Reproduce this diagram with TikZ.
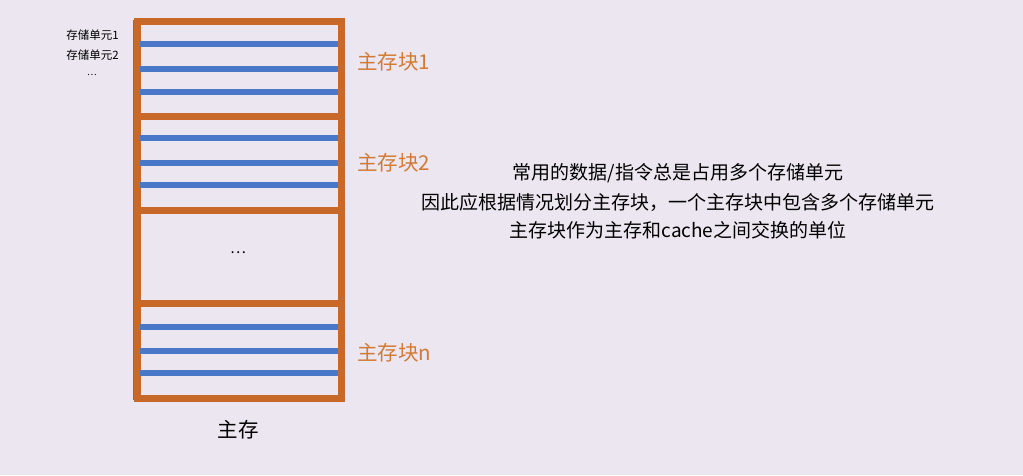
\documentclass[tikz,border=0pt]{standalone}
\usepackage{fontspec}
\setmainfont{Noto Sans CJK SC}
\usepackage{xcolor}
\usepackage{tikz}
\definecolor{bgpaper}{HTML}{EBE6EF}
\definecolor{blockline}{HTML}{C8692A}
\definecolor{blocktext}{HTML}{D27A35}
\definecolor{cellline}{HTML}{4A78C8}

\begin{document}
\begin{tikzpicture}[x=1pt,y=-1pt, every node/.style={inner sep=0pt},
	blocklabel/.style={anchor=west,text=blocktext,font=\fontsize{20.5}{22}\selectfont},
	celllabel/.style={anchor=east,font=\fontsize{11.5}{13}\selectfont},
	note/.style={font=\fontsize{19}{22}\selectfont}]
			\useasboundingbox (0,0) rectangle (1023,475);
			\fill[bgpaper] (0,0) rectangle (1023,475);
			% memory outline and blocks
			\draw[cellline,line width=1.5pt] (133.5,21) rectangle (342,399.5);
			\draw[blockline,line width=7pt] (137,21) rectangle (341,398);
			\draw[blockline,line width=7pt] (137,116) -- (341,116);
			\draw[blockline,line width=7pt] (137,210) -- (341,210);
			\draw[blockline,line width=7pt] (137,303) -- (341,303);
			% storage cells
			\draw[cellline,line width=5.5pt] (140,44) -- (338,44);
			\draw[cellline,line width=5.5pt] (140,69) -- (338,69);
			\draw[cellline,line width=5.5pt] (140,92) -- (338,92);
			\draw[cellline,line width=5.5pt] (140,138) -- (338,138);
			\draw[cellline,line width=5.5pt] (140,163) -- (338,163);
			\draw[cellline,line width=5.5pt] (140,185) -- (338,185);
			\draw[cellline,line width=5.5pt] (140,327) -- (338,327);
			\draw[cellline,line width=5.5pt] (140,351) -- (338,351);
			\draw[cellline,line width=5.5pt] (140,373) -- (338,373);
			% labels
			\node[celllabel] (cell1) at (119,35) {存储单元1};
			\node[celllabel] (cell2) at (119,55) {存储单元2};
			\node[font=\fontsize{9}{10}\selectfont] (celldots) at (92,75) {\dots};
			\node[font=\fontsize{15}{16}\selectfont] (blockdots) at (238,253) {\dots};
			\node[blocklabel] (block1) at (357,62) {主存块1};
			\node[blocklabel] (block2) at (357,163) {主存块2};
			\node[blocklabel] (blockn) at (357,353) {主存块n};
			\node[font=\fontsize{20.5}{22}\selectfont] (mem) at (238,430) {主存};
			\node[note] (line1) at (678,173) {常用的数据/指令总是占用多个存储单元};
			\node[note] (line2) at (678,202) {因此应根据情况划分主存块，一个主存块中包含多个存储单元};
			\node[note] (line3) at (678,230) {主存块作为主存和cache之间交换的单位};
		\end{tikzpicture}
\end{document}
